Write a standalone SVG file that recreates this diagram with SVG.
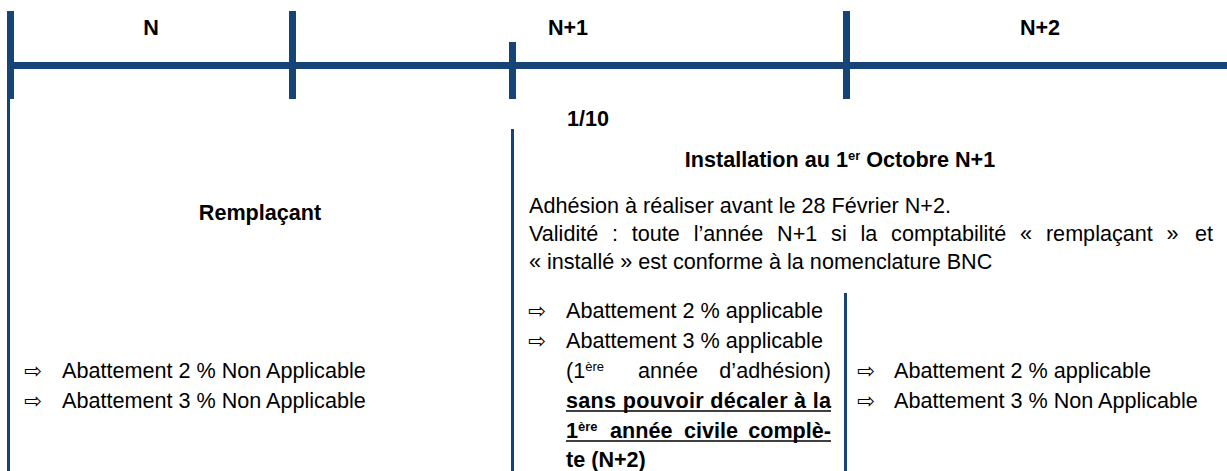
<svg xmlns="http://www.w3.org/2000/svg" width="1227" height="471" viewBox="0 0 1227 471">
<style>
.t{font-family:"Liberation Sans",Arial,sans-serif;font-size:21.6px;fill:#000}
.b{font-weight:bold}
.c{text-anchor:middle}
.e{text-anchor:end}
.ar{font-family:"DejaVu Sans",sans-serif;font-size:21px;fill:#000}
.sup{font-size:13px}
.bar{fill:#174476}
.ul{stroke:#000;stroke-width:1.6}
</style>
<g id="connectors">
  <rect class="bar" x="7" y="62" width="1220" height="7"/>
  <rect class="bar" x="7" y="11" width="7" height="88"/>
  <rect class="bar" x="289" y="11" width="7" height="88"/>
  <rect class="bar" x="509" y="42" width="7" height="57"/>
  <rect class="bar" x="843" y="11" width="7" height="88"/>
  <rect class="bar" x="7" y="99" width="3" height="372"/>
  <rect class="bar" x="511" y="129" width="3" height="342"/>
  <rect class="bar" x="844" y="293" width="3" height="178"/>
</g>
<g id="header">
  <text class="t b c" x="151" y="35">N</text>
  <text class="t b c" x="568" y="35">N+1</text>
  <text class="t b c" x="1040" y="35">N+2</text>
  <text class="t b" x="567" y="126">1/10</text>
</g>
<g id="col-remplacant">
  <text class="t b c" x="260" y="220">Remplaçant</text>
  <text class="ar" x="24" y="378">⇨</text>
  <text class="t" x="62" y="378">Abattement 2 % Non Applicable</text>
  <text class="ar" x="24" y="408">⇨</text>
  <text class="t" x="62" y="408">Abattement 3 % Non Applicable</text>
</g>
<g id="col-installation">
  <text class="t b c" x="840" y="167">Installation au 1<tspan class="sup" dy="-7">er</tspan><tspan dy="7"> Octobre N+1</tspan></text>
  <text class="t" x="529" y="213">Adhésion à réaliser avant le 28 Février N+2.</text>
  <text class="t" x="529" y="241" word-spacing="7.8">Validité : toute l’année N+1 si la comptabilité « remplaçant »</text>
  <text class="t e" x="1213" y="241">et</text>
  <text class="t" x="529" y="269">« installé » est conforme à la nomenclature BNC</text>
  <text class="ar" x="528" y="318">⇨</text>
  <text class="t" x="566" y="318">Abattement 2 % applicable</text>
  <text class="ar" x="528" y="348">⇨</text>
  <text class="t" x="566" y="348">Abattement 3 % applicable</text>
  <text class="t" x="566" y="378">(1<tspan class="sup" dy="-7">ère</tspan></text>
  <text class="t" x="638" y="378">année</text>
  <text class="t e" x="831" y="378">d’adhésion)</text>
  <text class="t b" x="566" y="408" textLength="265" lengthAdjust="spacing">sans pouvoir décaler à la</text>
  <line class="ul" x1="566" y1="411" x2="831" y2="411"/>
  <text class="t b" x="566" y="438">1<tspan class="sup" dy="-7">ère</tspan></text>
  <text class="t b" x="610" y="438">année</text>
  <text class="t b" x="684" y="438">civile</text>
  <text class="t b e" x="831" y="438">complè-</text>
  <line class="ul" x1="566" y1="441" x2="831" y2="441"/>
  <text class="t b" x="566" y="467">te (N+2)</text>
</g>
<g id="col-n2">
  <text class="ar" x="857" y="378">⇨</text>
  <text class="t" x="894" y="378">Abattement 2 % applicable</text>
  <text class="ar" x="857" y="408">⇨</text>
  <text class="t" x="894" y="408">Abattement 3 % Non Applicable</text>
</g>
</svg>
